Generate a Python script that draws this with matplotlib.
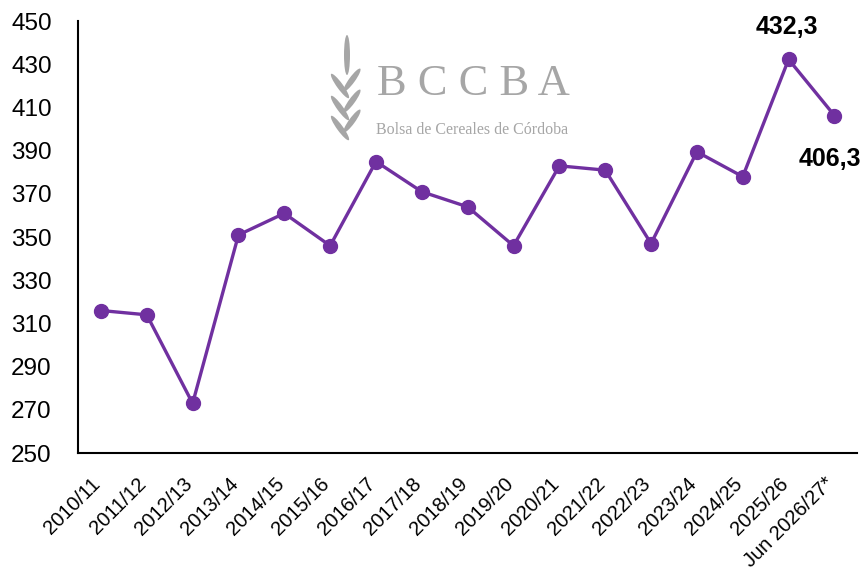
import matplotlib
matplotlib.use("Agg")
import matplotlib.pyplot as plt
import matplotlib.transforms as mtransforms
from matplotlib.patches import Ellipse

plt.rcParams["font.family"] = ["Liberation Sans", "DejaVu Sans"]

campaigns = [
    "2010/11", "2011/12", "2012/13", "2013/14", "2014/15", "2015/16",
    "2016/17", "2017/18", "2018/19", "2019/20", "2020/21", "2021/22",
    "2022/23", "2023/24", "2024/25", "2025/26", "Jun 2026/27*",
]
values = [316, 314, 273, 351, 361, 346, 385, 371, 364, 346,
          383, 381, 347, 389.5, 378, 432.3, 406.3]
y_ticks = list(range(250, 451, 20))

PURPLE = "#7030A0"
GREY = "#a6a6a6"

fig = plt.figure(figsize=(8.64, 5.72), dpi=100)
ax = fig.add_axes([0.0903, 0.208, 0.902, 0.755])

x = list(range(len(campaigns)))
ax.plot(x, values, color=PURPLE, linewidth=2.4, marker="o", markersize=10,
        markeredgecolor=PURPLE, zorder=3)

ax.set_xlim(-0.5, len(campaigns) - 0.5)
ax.set_ylim(250, 450)
ax.set_yticks(y_ticks)
ax.set_xticks(x)
ax.set_xticklabels(campaigns, rotation=45, ha="right", va="top",
                   rotation_mode="anchor", fontsize=14.5)
ax.tick_params(axis="y", labelsize=17.5, length=0, pad=19)
ax.tick_params(axis="x", length=0, pad=15)
shift = mtransforms.ScaledTranslation(-0.1, 0, fig.dpi_scale_trans)
for lab in ax.get_xticklabels():
    lab.set_transform(lab.get_transform() + shift)

for side in ("top", "right"):
    ax.spines[side].set_visible(False)
for side in ("left", "bottom"):
    ax.spines[side].set_linewidth(1.5)
    ax.spines[side].set_color("black")

# labels on the last two points
ax.annotate(f"{values[-2]:.1f}".replace(".", ","), (x[-2], values[-2]),
            xytext=(-1, 15), textcoords="offset points", ha="center",
            va="bottom", fontsize=18, fontweight="bold")
ax.annotate(f"{values[-1]:.1f}".replace(".", ","), (x[-1], values[-1]),
            xytext=(-3, -23), textcoords="offset points", ha="center",
            va="top", fontsize=18, fontweight="bold")

# BCCBA logo (watermark), placed in pixel units from the top-left
def px(xp, yp):
    return xp / 100, (572 - yp) / 100

ax.text(*px(377, 84), "B C C B A", transform=fig.dpi_scale_trans,
        fontsize=32, family="Liberation Serif", color=GREY, va="center",
        ha="left")
ax.text(*px(376, 130), "Bolsa de Cereales de Córdoba",
        transform=fig.dpi_scale_trans, fontsize=11.5,
        family="Liberation Serif", color=GREY, va="center", ha="left")
fig.patches.append(Ellipse(px(347, 55), 0.06, 0.40, transform=fig.dpi_scale_trans,
                           color=GREY, lw=0))
for yl in (86, 108, 128):
    fig.patches.append(Ellipse(px(340, yl), 0.06, 0.30, angle=36,
                               transform=fig.dpi_scale_trans, color=GREY, lw=0))
for yr in (80, 101, 121):
    fig.patches.append(Ellipse(px(352, yr), 0.06, 0.28, angle=-36,
                               transform=fig.dpi_scale_trans, color=GREY, lw=0))

fig.savefig("out.png", dpi=100)
